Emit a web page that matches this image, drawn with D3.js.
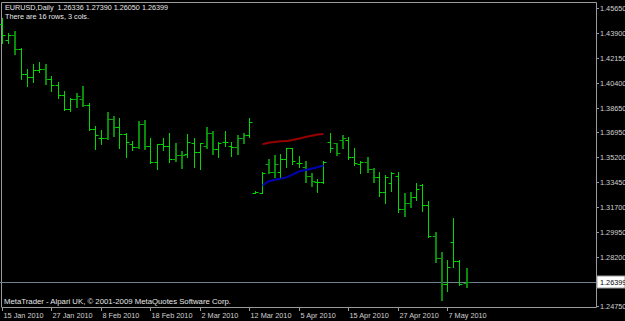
<!DOCTYPE html>
<html lang="en">
  <head>
    <meta charset="UTF-8" />
    <title>EURUSD, Daily</title>
    <script src="https://d3js.org/d3.v7.min.js"></script>
    <style>
      body { margin: 0; background: #000; }
      svg text { font-family: "Liberation Sans", Arial, sans-serif; font-size: 7.3px; }
    </style>
  </head>
  <body>
    <svg id="chart" width="625" height="321"></svg>

    <script>
      // daily bars, 15 Jan 2010 onwards
      const opens = [1.4453,1.4340,1.4376,1.4277,1.4100,1.4079,1.4130,1.4139,1.4069,1.4028,
        1.3953,1.3854,1.3927,1.3927,1.3882,1.3718,1.3651,1.3651,1.3784,1.3728,
        1.3681,1.3611,1.3588,1.3751,1.3595,1.3487,1.3609,1.3597,1.3508,1.3532,
        1.3539,1.3616,1.3557,1.3599,1.3686,1.3574,1.3627,1.3597,1.3592,1.3651,
        1.3674,1.3269,1.3269,1.3471,1.3413,1.3417,1.3504,1.3581,1.3476,1.3452,
        1.3389,1.3347,1.3344,1.3625,1.3616,1.3639,1.3639,1.3518,1.3469,1.3483,
        1.3436,1.3382,1.3276,1.3340,1.3387,1.3153,1.3199,1.3237,1.3323,1.3183,
        1.2966,1.2814,1.2629,1.2926,1.2790,1.26336];
      const highs = [1.4495,1.4392,1.4404,1.4282,1.4137,1.4172,1.4186,1.4172,1.4088,1.4048,
        1.3983,1.3934,1.3971,1.4020,1.3899,1.3737,1.3709,1.3835,1.3807,1.3796,
        1.3686,1.3632,1.3774,1.3779,1.3651,1.3609,1.3651,1.3690,1.3616,1.3562,
        1.3679,1.3651,1.3620,1.3732,1.3704,1.3623,1.3702,1.3627,1.3674,1.3686,
        1.3791,1.3283,1.3417,1.3504,1.3534,1.3541,1.3581,1.3585,1.3529,1.3492,
        1.3406,1.3363,1.3492,1.3686,1.3620,1.3674,1.3662,1.3581,1.3494,1.3518,
        1.3441,1.3417,1.3394,1.3417,1.3417,1.3265,1.3276,1.3341,1.3330,1.3213,
        1.2996,1.2856,1.2797,1.3090,1.2797,1.27390];
      const lows = [1.4322,1.4322,1.4242,1.4065,1.4020,1.4048,1.4118,1.4032,1.3985,1.3936,
        1.3850,1.3845,1.3873,1.3878,1.3709,1.3574,1.3611,1.3644,1.3667,1.3581,
        1.3522,1.3569,1.3585,1.3576,1.3476,1.3436,1.3569,1.3487,1.3494,1.3441,
        1.3522,1.3452,1.3434,1.3581,1.3541,1.3522,1.3597,1.3527,1.3539,1.3616,
        1.3662,1.3265,1.3269,1.3406,1.3382,1.3382,1.3452,1.3469,1.3452,1.3347,
        1.3319,1.3276,1.3335,1.3557,1.3534,1.3581,1.3504,1.3464,1.3410,1.3417,
        1.3347,1.3246,1.3195,1.3283,1.3136,1.3106,1.3171,1.3218,1.3143,1.2961,
        1.2785,1.2517,1.2582,1.2750,1.2622,1.26050];
      const closes = [1.4376,1.4376,1.4277,1.4100,1.4079,1.4128,1.4139,1.4065,1.4028,1.3953,
        1.3854,1.3925,1.3948,1.3885,1.3718,1.3674,1.3655,1.3784,1.3728,1.3681,
        1.3627,1.3588,1.3751,1.3595,1.3487,1.3609,1.3597,1.3508,1.3532,1.3534,
        1.3627,1.3557,1.3616,1.3686,1.3574,1.3616,1.3627,1.3592,1.3651,1.3674,
        1.3763,1.3276,1.3410,1.3413,1.3471,1.3504,1.3581,1.3494,1.3476,1.3389,
        1.3354,1.3347,1.3487,1.3581,1.3546,1.3651,1.3518,1.3480,1.3483,1.3436,
        1.3382,1.3276,1.3377,1.3410,1.3153,1.3199,1.3237,1.3293,1.3181,1.2966,
        1.2814,1.2629,1.2746,1.2790,1.2627,1.26399];

      // bars drawn heavier (darker green)
      const markedBars = [2,7,12,13,17,18,22,23,28,29,33,34,38,39,43,44,49,50,54,55,59,60,65,66,70,71,75];

      // indicator lines, starting at bar 42
      const lineStart = 42;
      const redLine = [1.3609,1.3620,1.3625,1.3630,1.3632,1.3639,1.3650,1.3660,1.3669,1.3678,1.3681];
      const blueLine = [1.3320,1.3348,1.3361,1.3368,1.3377,1.3396,1.3420,1.3429,1.3438,1.3448,1.3460];

      const priceLabels = ["1.45650","1.43900","1.42150","1.40400","1.38650","1.36950",
        "1.35200","1.33450","1.31700","1.29950","1.28200","1.24750"];
      const dateLabels = ["15 Jan 2010","27 Jan 2010","8 Feb 2010","18 Feb 2010","2 Mar 2010",
        "12 Mar 2010","5 Apr 2010","15 Apr 2010","27 Apr 2010","7 May 2010"];
      const dateBars = [0,8,16,24,32,40,48,56,64,72];

      const lastPrice = 1.26399;
      const header = "EURUSD,Daily  1.26336 1.27390 1.26050 1.26399";
      const comment = "There are 16 rows, 3 cols.";
      const credit = "MetaTrader - Alpari UK, \u00a9 2001-2009 MetaQuotes Software Corp.";

      const plotRight = 596, plotTop = 2, plotBottom = 307;

      const x = d3.scaleLinear().domain([0, 72]).range([2, 447]);
      const y = d3.scaleLinear().domain([1.2475, 1.4565]).range([306, 8]);
      const px = (i) => Math.round(x(i)) + 0.5;

      const svg = d3.select("#chart");
      svg.append("rect").attr("width", 625).attr("height", 321).attr("fill", "#000");

      // frame
      svg.append("path")
        .attr("d", `M1.5,${plotBottom}V${plotTop + 0.5}H${plotRight + 0.5}V${plotBottom + 0.5}H1.5`)
        .attr("fill", "none")
        .attr("stroke", "#9a9a9a");

      // current price line
      svg.append("line")
        .attr("x1", 0).attr("x2", plotRight)
        .attr("y1", Math.round(y(lastPrice)) + 0.5).attr("y2", Math.round(y(lastPrice)) + 0.5)
        .attr("stroke", "#70808c");

      // bars
      const bars = d3.range(opens.length).map((i) => ({
        i, o: opens[i], h: highs[i], l: lows[i], c: closes[i],
        heavy: markedBars.includes(i)
      }));

      const g = svg.append("g");
      const bar = g.selectAll(".bar").data(bars).enter().append("g").attr("class", "bar");
      bar.append("line")
        .attr("x1", (d) => px(d.i) + (d.heavy ? 0.5 : 0))
        .attr("x2", (d) => px(d.i) + (d.heavy ? 0.5 : 0))
        .attr("y1", (d) => Math.round(y(d.h)))
        .attr("y2", (d) => Math.round(y(d.l)) + 1)
        .attr("stroke", (d) => (d.heavy ? "#0a8a0a" : "#00d800"))
        .attr("stroke-width", (d) => (d.heavy ? 2 : 1));
      bar.append("line")
        .attr("x1", (d) => px(d.i) - 3)
        .attr("x2", (d) => px(d.i))
        .attr("y1", (d) => Math.round(y(d.o)) + 0.5)
        .attr("y2", (d) => Math.round(y(d.o)) + 0.5)
        .attr("stroke", (d) => (d.heavy ? "#10a010" : "#00d800"));
      bar.append("line")
        .attr("x1", (d) => px(d.i))
        .attr("x2", (d) => px(d.i) + (d.heavy ? 4 : 3))
        .attr("y1", (d) => Math.round(y(d.c)) + 0.5)
        .attr("y2", (d) => Math.round(y(d.c)) + 0.5)
        .attr("stroke", (d) => (d.heavy ? "#10a010" : "#00d800"));

      // indicator lines
      const line = d3.line()
        .x((d, k) => px(lineStart + k))
        .y((d) => y(d));
      svg.append("path").datum(redLine).attr("d", line)
        .attr("fill", "none").attr("stroke", "#960000").attr("stroke-width", 2);
      svg.append("path").datum(blueLine).attr("d", line)
        .attr("fill", "none").attr("stroke", "#0000b4").attr("stroke-width", 2);

      // price axis
      const yAxis = svg.append("g");
      priceLabels.forEach((lab) => {
        const yy = Math.round(y(+lab)) + 0.5;
        yAxis.append("line").attr("x1", plotRight).attr("x2", plotRight + 3)
          .attr("y1", yy).attr("y2", yy).attr("stroke", "#9a9a9a");
        yAxis.append("text").attr("x", 600).attr("y", yy + 2.5)
          .attr("fill", "#d0d0d0").text(lab);
      });
      const ly = Math.round(y(lastPrice));
      yAxis.append("rect").attr("x", 597).attr("y", ly - 6).attr("width", 28).attr("height", 12)
        .attr("fill", "#fff").attr("stroke", "#9a9a9a");
      yAxis.append("text").attr("x", 600).attr("y", ly + 3)
        .attr("fill", "#000").text(lastPrice.toFixed(5));

      // time axis
      const xAxis = svg.append("g");
      dateLabels.forEach((lab, k) => {
        const xx = px(dateBars[k]);
        xAxis.append("line").attr("x1", xx).attr("x2", xx)
          .attr("y1", plotBottom).attr("y2", plotBottom + 4).attr("stroke", "#9a9a9a");
        xAxis.append("text").attr("x", xx + 1).attr("y", 318)
          .attr("fill", "#d0d0d0").text(lab);
      });

      // texts
      svg.append("text").attr("x", 5).attr("y", 9.5).attr("fill", "#e6e6e6")
        .attr("textLength", 163).attr("lengthAdjust", "spacingAndGlyphs")
        .style("white-space", "pre").text(header);
      svg.append("text").attr("x", 5).attr("y", 18.5).attr("fill", "#e6e6e6")
        .attr("textLength", 84).attr("lengthAdjust", "spacingAndGlyphs").text(comment);
      svg.append("text").attr("x", 4).attr("y", 303.5).attr("fill", "#e6e6e6")
        .attr("textLength", 227).attr("lengthAdjust", "spacingAndGlyphs").text(credit);
    </script>
  </body>
</html>
